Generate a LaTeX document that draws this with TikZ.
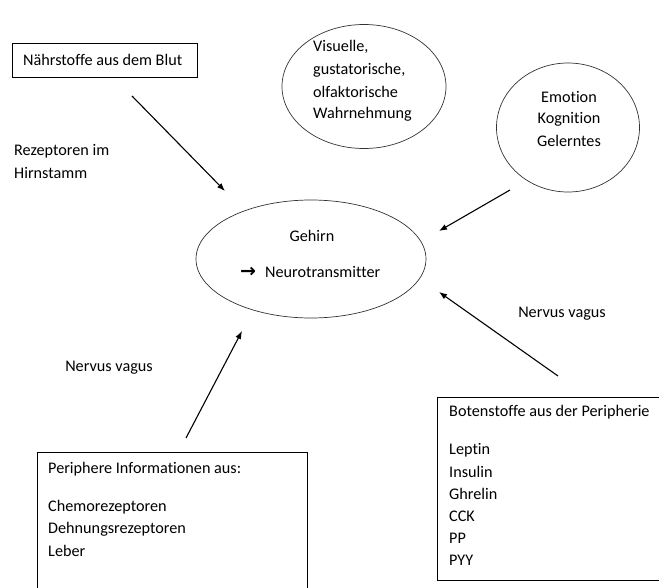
\documentclass[tikz,border=0pt]{standalone}
\usepackage{fontspec}
\setmainfont[Ligatures={NoCommon}]{Carlito}
\newfontfamily\symfont{DejaVu Sans}
\usetikzlibrary{arrows.meta,shapes.geometric}
\begin{document}
\begin{tikzpicture}[x=1pt,y=-1pt,
  every node/.style={font=\fontsize{16.2}{22}\selectfont, inner sep=0pt},
  txt/.style={anchor=west},
  frame/.style={draw=black, line width=0.7pt},
  oval/.style={draw=black!80, line width=0.7pt},
  arr/.style={draw=black, line width=1.1pt, -{Latex[length=8pt,width=6pt]}}]
\useasboundingbox (0,0) rectangle (659,588);
% box top left
\node[frame, minimum width=185pt, minimum height=34pt] (blut) at (104.5,60) {};
\node[txt] (blutt) at (23,60) {Nährstoffe aus dem Blut};
\node[txt] (rez1) at (14,151) {Rezeptoren im};
\node[txt] (rez2) at (14,173) {Hirnstamm};
% ellipses
\draw[oval] (364,86.5) ellipse [x radius=82, y radius=62];
\node (visual) at (364,86.5) {};
\node[txt] (v1) at (313,47) {Visuelle,};
\node[txt] (v2) at (313,70) {gustatorische,};
\node[txt] (v3) at (313,92) {olfaktorische};
\node[txt] (v4) at (313,114) {Wahrnehmung};
\draw[oval] (568,127.5) ellipse [x radius=71.5, y radius=64.5];
\node (emo) at (568,127.5) {};
\node (e1) at (569,97) {Emotion};
\node (e2) at (569,119) {Kognition};
\node (e3) at (569,141) {Gelerntes};
\draw[oval] (311,259) ellipse [x radius=115, y radius=59];
\node (brain) at (311,259) {};
\node (g1) at (312,236) {Gehirn};
\node[txt] (g2) at (240,272) {{\symfont\bfseries\fontsize{19}{19}\selectfont →}\hspace{9pt}Neurotransmitter};
% bottom boxes
\draw[frame] (37,590) -- (37,452.5) -- (307,452.5) -- (307,590);
\node[txt] (p0) at (48,469) {Periphere Informationen aus:};
\node[txt] (p1) at (48,507) {Chemorezeptoren};
\node[txt] (p2) at (48,529) {Dehnungsrezeptoren};
\node[txt] (p3) at (48,551) {Leber};
\draw[frame] (662,397.5) -- (437.5,397.5) -- (437.5,580) -- (662,580);
\node[txt] (b0) at (449,412) {Botenstoffe aus der Peripherie};
\node[txt] (b1) at (449,450) {Leptin};
\node[txt] (b2) at (449,472) {Insulin};
\node[txt] (b3) at (449,494) {Ghrelin};
\node[txt] (b4) at (449,516) {CCK};
\node[txt] (b5) at (449,538) {PP};
\node[txt] (b6) at (449,560) {PYY};
% labels
\node (nv1) at (562,314) {Nervus vagus};
\node (nv2) at (109,368) {Nervus vagus};
% arrows
\coordinate (a1s) at (132,96);
\coordinate (a1e) at (225,191);
\coordinate (a2s) at (510,190);
\coordinate (a2e) at (439,231);
\coordinate (a3s) at (558,376);
\coordinate (a3e) at (439,292);
\coordinate (a4s) at (186,438);
\coordinate (a4e) at (242,331);
\draw[arr] (a1s) -- (a1e);
\draw[arr] (a2s) -- (a2e);
\draw[arr] (a3s) -- (a3e);
\draw[arr] (a4s) -- (a4e);
\end{tikzpicture}
\end{document}
